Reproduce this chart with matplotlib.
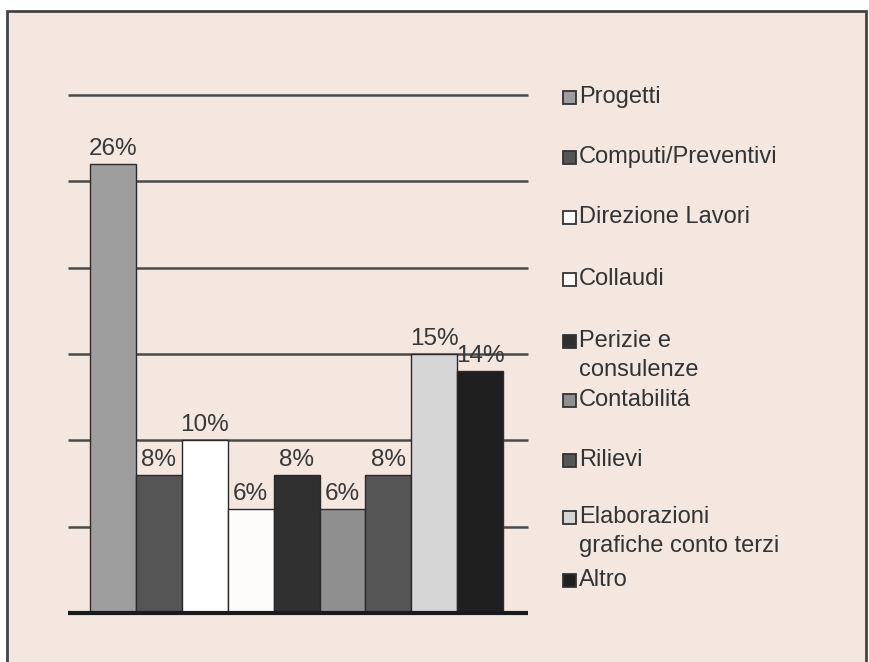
import matplotlib
matplotlib.use("Agg")
import matplotlib.pyplot as plt
from matplotlib.patches import Rectangle

# ---- dati ----
categorie = ["Progetti", "Computi/Preventivi", "Direzione Lavori", "Collaudi",
             "Perizie e\nconsulenze", "Contabilitá", "Rilievi",
             "Elaborazioni\ngrafiche conto terzi", "Altro"]
percentuali = [26, 8, 10, 6, 8, 6, 8, 15, 14]
etichette = ["26%", "8%", "10%", "6%", "8%", "6%", "8%", "15%", "14%"]
colori = ["#9e9e9e", "#555555", "#ffffff", "#fefcfa", "#303030",
          "#8f8f8f", "#565656", "#d6d6d6", "#1f1f1f"]
griglia = [5, 10, 15, 20, 25, 30]

plt.rcParams["font.family"] = ["Liberation Sans", "DejaVu Sans"]
W, H = 870, 662
fig = plt.figure(figsize=(W / 100, H / 100), dpi=100, facecolor="white")

# cornice di sfondo beige (sotto a tutto)
fig.patches.append(Rectangle((7 / W, -0.05), (866 - 7) / W, (H - 11) / H + 0.05,
                             transform=fig.transFigure, facecolor="#f4e7e0",
                             edgecolor="#444444", linewidth=2.0, zorder=-10))

# area del grafico: x 68..528 px, y 95..613 px
ax = fig.add_axes([68 / W, (H - 613) / H, (528 - 68) / W, (613 - 95) / H])
ax.set_zorder(1)
ax.set_facecolor("none")
for s in ax.spines.values():
    s.set_visible(False)
ax.set_xticks([])
ax.set_yticks([])

x = list(range(len(percentuali)))
ax.set_xlim(-0.98, 9.04)
ax.set_ylim(0, 30)

ax.hlines(griglia, -0.98, 9.04, colors="#4a4a4a", linewidth=1.8, zorder=1, clip_on=False)
ax.bar(x, percentuali, width=1.0, color=colori, edgecolor="#2a2a2a",
       linewidth=1.0, zorder=2)
ax.hlines([0], -0.98, 9.04, colors="#1a1a1a", linewidth=3.0, zorder=3, clip_on=False)

for xi, v, lab in zip(x, percentuali, etichette):
    ax.annotate(lab, xy=(xi, v), xytext=(0, 3), textcoords="offset points",
                ha="center", va="bottom", fontsize=17.5, color="#383838", zorder=4)

# legenda disegnata a mano
leg_y = [97, 157, 217, 279, 341, 400, 460, 517, 580]
for lab, c, yy in zip(categorie, colori, leg_y):
    fig.patches.append(Rectangle((563 / W, (H - yy - 7) / H), 13 / W, 13 / H,
                                 transform=fig.transFigure, facecolor=c,
                                 edgecolor="#333333", linewidth=1.3, zorder=3))
    for k, riga in enumerate(lab.split("\n")):
        fig.text(579 / W, (H - yy - 29 * k) / H, riga, fontsize=17,
                 color="#333333", ha="left", va="center")

plt.savefig("out.png", dpi=100, facecolor=fig.get_facecolor())
